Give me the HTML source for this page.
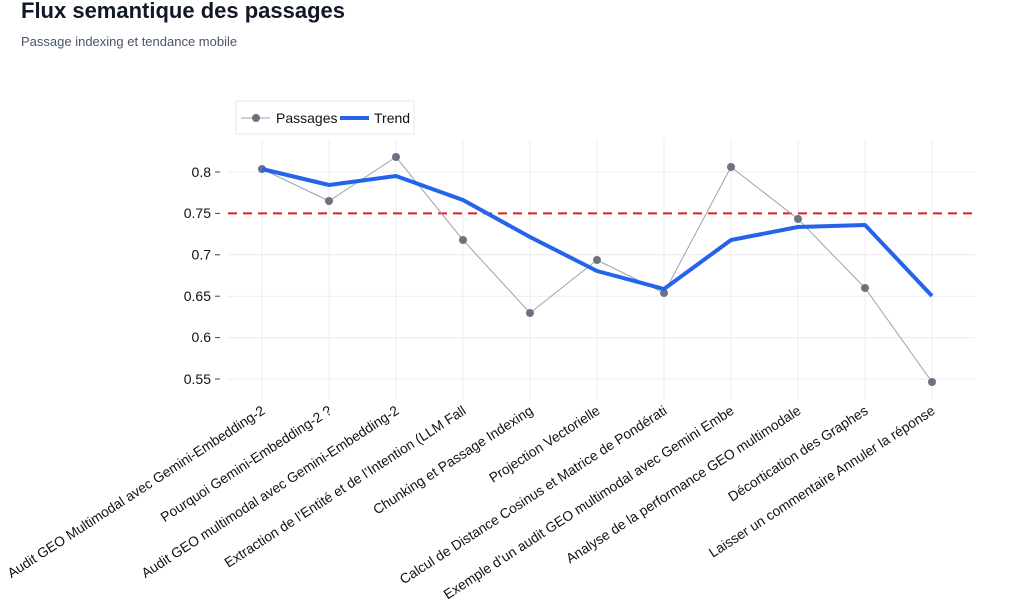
<!DOCTYPE html>
<html><head><meta charset="utf-8"><style>
body{margin:0;background:#fff;width:1010px;height:600px;overflow:hidden;font-family:"Liberation Sans",Arial,sans-serif}
</style></head><body>
<svg width="1010" height="600" xmlns="http://www.w3.org/2000/svg" font-family="Liberation Sans, Arial, sans-serif">
<text x="21" y="18" font-size="22" font-weight="bold" fill="#111827">Flux semantique des passages</text>
<text x="21" y="46" font-size="13" fill="#475569">Passage indexing et tendance mobile</text>
<rect x="236" y="101" width="178" height="33" fill="#fff" stroke="#e2e8f0"/>
<line x1="241" y1="118" x2="270" y2="118" stroke="#9ca3af" stroke-width="1"/>
<circle cx="256" cy="118" r="4" fill="#6b7280"/>
<text x="276" y="123" font-size="14" fill="#111">Passages</text>
<line x1="340" y1="118" x2="369" y2="118" stroke="#2563eb" stroke-width="4"/>
<text x="374" y="123" font-size="14" fill="#111">Trend</text>
<g stroke="#ececec" stroke-width="1">
<line x1="262" y1="140" x2="262" y2="400"/><line x1="329" y1="140" x2="329" y2="400"/><line x1="396" y1="140" x2="396" y2="400"/><line x1="463" y1="140" x2="463" y2="400"/><line x1="530" y1="140" x2="530" y2="400"/><line x1="597" y1="140" x2="597" y2="400"/><line x1="664" y1="140" x2="664" y2="400"/><line x1="731" y1="140" x2="731" y2="400"/><line x1="798" y1="140" x2="798" y2="400"/><line x1="865" y1="140" x2="865" y2="400"/><line x1="932" y1="140" x2="932" y2="400"/>
<line x1="228" y1="172" x2="975" y2="172"/><line x1="228" y1="254.8" x2="975" y2="254.8"/><line x1="228" y1="296.2" x2="975" y2="296.2"/><line x1="228" y1="337.6" x2="975" y2="337.6"/><line x1="228" y1="379" x2="975" y2="379"/>
</g>
<g stroke="#444" stroke-width="1">
<line x1="215" y1="172" x2="220" y2="172"/><line x1="215" y1="213.4" x2="220" y2="213.4"/><line x1="215" y1="254.8" x2="220" y2="254.8"/><line x1="215" y1="296.2" x2="220" y2="296.2"/><line x1="215" y1="337.6" x2="220" y2="337.6"/><line x1="215" y1="379" x2="220" y2="379"/>
</g>
<g font-size="14" fill="#111" text-anchor="end">
<text x="211" y="177">0.8</text><text x="211" y="218">0.75</text><text x="211" y="259.5">0.7</text><text x="211" y="301">0.65</text><text x="211" y="342">0.6</text><text x="211" y="384">0.55</text>
</g>
<line x1="228" y1="213.4" x2="975" y2="213.4" stroke="#e11d1d" stroke-width="2" stroke-dasharray="9,6"/>
<polyline fill="none" stroke="#9ca3af" stroke-width="1" points="262,169 329,201 396,157 463,240 530,313 597,260 664,293 731,167 798,219 865,288 932,382"/>
<g fill="#6b7280">
<circle cx="262" cy="169" r="4"/><circle cx="329" cy="201" r="4"/><circle cx="396" cy="157" r="4"/><circle cx="463" cy="240" r="4"/><circle cx="530" cy="313" r="4"/><circle cx="597" cy="260" r="4"/><circle cx="664" cy="293" r="4"/><circle cx="731" cy="167" r="4"/><circle cx="798" cy="219" r="4"/><circle cx="865" cy="288" r="4"/><circle cx="932" cy="382" r="4"/>
</g>
<polyline fill="none" stroke="#2563eb" stroke-width="4" stroke-linejoin="round" points="262,169 329,185 396,176 463,200 530,237 597,271 664,289 731,240 798,227 865,225 932,296"/>
<g font-size="13.8" fill="#111" text-anchor="end">
<text transform="translate(266,413) rotate(-33)">Audit GEO Multimodal avec Gemini-Embedding-2</text>
<text transform="translate(333,413) rotate(-33)">Pourquoi Gemini-Embedding-2 ?</text>
<text transform="translate(400,413) rotate(-33)">Audit GEO multimodal avec Gemini-Embedding-2</text>
<text transform="translate(467,413) rotate(-33)">Extraction de l’Entité et de l’Intention (LLM Fall</text>
<text transform="translate(534,413) rotate(-33)">Chunking et Passage Indexing</text>
<text transform="translate(601,413) rotate(-33)">Projection Vectorielle</text>
<text transform="translate(668,413) rotate(-33)">Calcul de Distance Cosinus et Matrice de Pondérati</text>
<text transform="translate(735,413) rotate(-33)">Exemple d’un audit GEO multimodal avec Gemini Embe</text>
<text transform="translate(802,413) rotate(-33)">Analyse de la performance GEO multimodale</text>
<text transform="translate(869,413) rotate(-33)">Décortication des Graphes</text>
<text transform="translate(936,413) rotate(-33)">Laisser un commentaire Annuler la réponse</text>
</g>
</svg>
</body></html>
